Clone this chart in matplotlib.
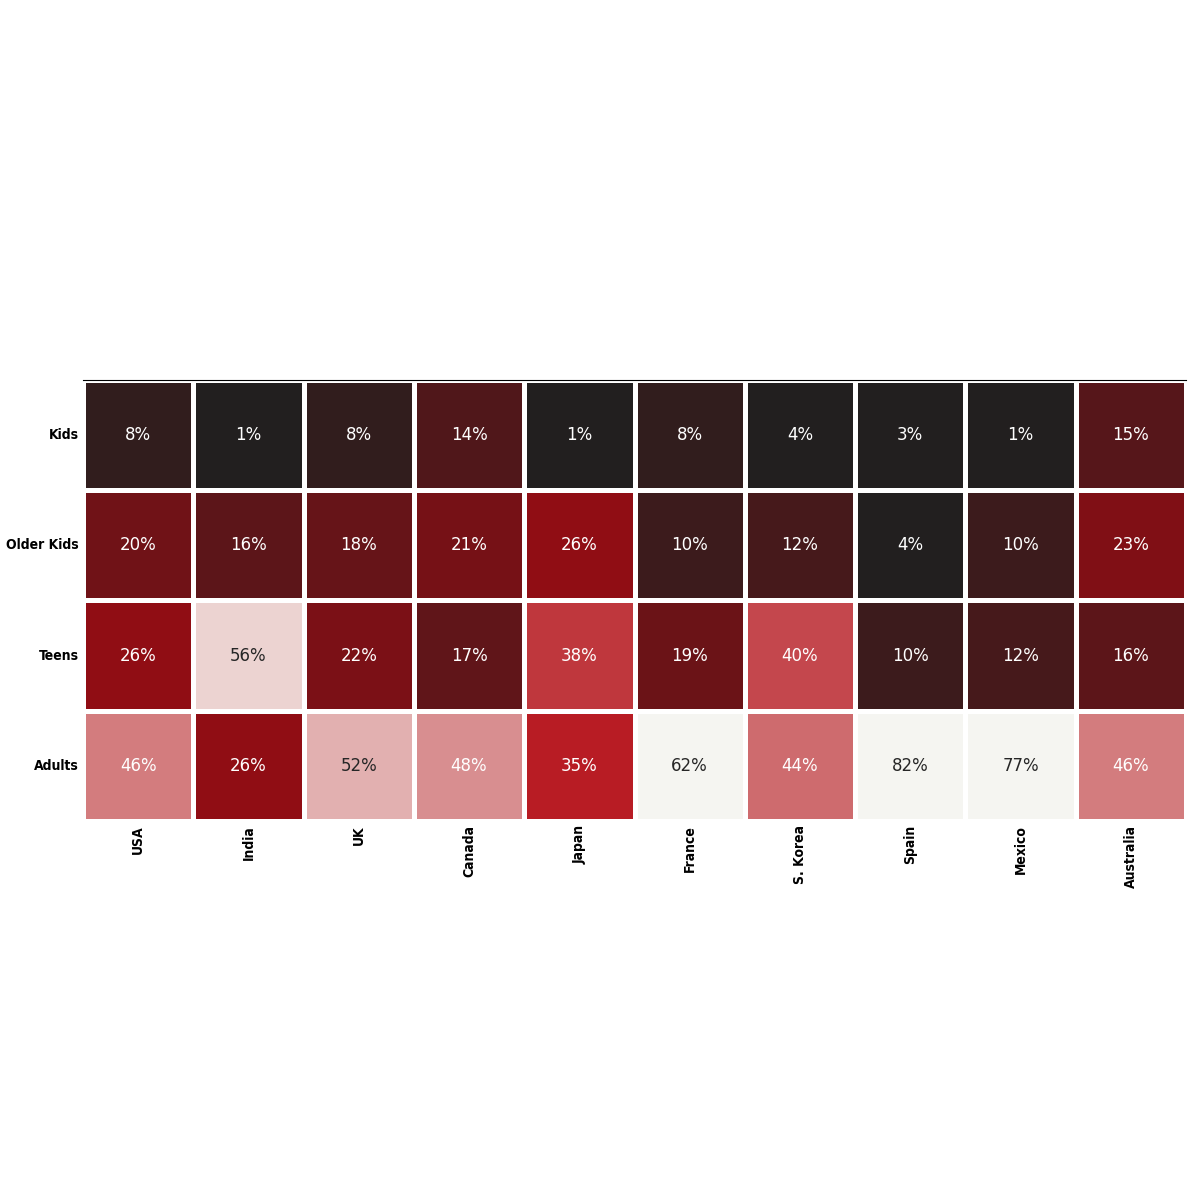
import pandas as pd
import matplotlib.pyplot as plt
import matplotlib.colors as mcolors
import seaborn as sns

countries = ['USA', 'India', 'UK', 'Canada', 'Japan', 'France', 'S. Korea', 'Spain', 'Mexico', 'Australia']
ages = ['Kids', 'Older Kids', 'Teens', 'Adults']

kids = [0.08, 0.01, 0.08, 0.14, 0.01, 0.08, 0.04, 0.03, 0.01, 0.15]
older_kids = [0.20, 0.16, 0.18, 0.21, 0.26, 0.10, 0.12, 0.04, 0.10, 0.23]
teens = [0.26, 0.56, 0.22, 0.17, 0.38, 0.19, 0.40, 0.10, 0.12, 0.16]
adults = [0.46, 0.26, 0.52, 0.48, 0.35, 0.62, 0.44, 0.82, 0.77, 0.46]

df = pd.DataFrame([kids, older_kids, teens, adults], index=ages, columns=countries)

cmap = mcolors.LinearSegmentedColormap.from_list('', ['#221f1f', '#b20710', '#f5f5f1'])

fig = plt.figure(figsize=(12, 12), dpi=100)
ax = fig.add_axes([83 / 1200, 379 / 1200, 1103 / 1200, 441.2 / 1200])

sns.heatmap(df, cmap=cmap, square=True, linewidth=2.5, cbar=False, annot=True,
            fmt='1.0%', vmax=0.6, vmin=0.05, ax=ax, annot_kws={'fontsize': 12})

ax.spines['top'].set_visible(True)
ax.tick_params(length=0, pad=3)

label_font = dict(family=['DejaVu Sans'], stretch='condensed', weight='heavy', fontsize=10)
ax.set_yticklabels(ax.get_yticklabels(), rotation=0, **label_font)
ax.set_xticklabels(ax.get_xticklabels(), rotation=90, **label_font)
ax.set_xlabel('')
ax.set_ylabel('')

fig.savefig('out.png', dpi=100)
